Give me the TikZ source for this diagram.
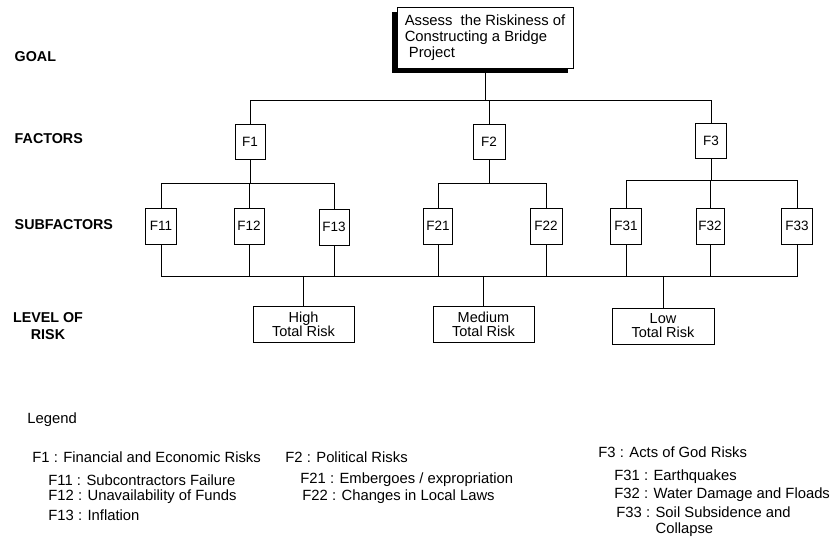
\documentclass[tikz,border=0pt]{standalone}
\usepackage{fontspec}
\setmainfont{Liberation Sans}
\usetikzlibrary{shadows}
\begin{document}
\begin{tikzpicture}[x=1pt,y=-1pt,
  line width=0.8pt,
  every node/.style={font=\fontsize{13.5}{15}\selectfont},
  fbox/.style={draw, fill=white, minimum width=30pt, minimum height=36pt, inner sep=1pt},
  riskbox/.style={draw, fill=white, minimum width=101pt, minimum height=36pt, inner sep=1pt, align=center, font=\fontsize{14.5}{14}\selectfont},
  goalbox/.style={draw, fill=white, minimum width=176pt, minimum height=61pt, inner xsep=2pt, inner ysep=2pt, align=left,
     font=\fontsize{14.8}{16}\selectfont,
     drop shadow={shadow xshift=-5pt, shadow yshift=-5pt, fill=black, opacity=1}},
  lvl/.style={anchor=west, font=\fontsize{14.3}{17}\bfseries\selectfont},
  leg/.style={anchor=west, inner sep=0pt, font=\fontsize{14.8}{17}\selectfont}
]
\useasboundingbox (0,0) rectangle (832,537);

% goal
\node[goalbox] (goal) at (485,37.5) {Assess\ \ the Riskiness of\\Constructing a Bridge\\\ Project};

% level labels
\node[lvl] (lgoal) at (11,57) {GOAL};
\node[lvl] (lfac) at (11,139) {FACTORS};
\node[lvl] (lsub) at (11,225) {SUBFACTORS};
\node[lvl, anchor=center, align=center, font=\fontsize{14.3}{17}\bfseries\selectfont] (lrisk) at (48,326) {LEVEL OF\\RISK};

% factors
\node[fbox, minimum height=35pt] (F1) at (250,142) {F1};
\node[fbox, minimum height=35pt, minimum width=32pt] (F2) at (489,142) {F2};
\node[fbox, minimum height=35pt, minimum width=31pt] (F3) at (711,141) {F3};

% subfactors
\node[fbox, minimum width=31pt] (F11) at (161,226) {F11};
\node[fbox] (F12) at (249,226) {F12};
\node[fbox] (F13) at (334,227) {F13};
\node[fbox, minimum width=29pt] (F21) at (438,226) {F21};
\node[fbox, minimum width=32pt] (F22) at (546,226) {F22};
\node[fbox, minimum width=31pt] (F31) at (626,226) {F31};
\node[fbox, minimum width=28pt] (F32) at (710,226) {F32};
\node[fbox, minimum width=31pt] (F33) at (797,226) {F33};

% risk levels
\node[riskbox] (high) at (303.5,324) {High\\Total Risk};
\node[riskbox] (med) at (483.5,324.5) {Medium\\Total Risk};
\node[riskbox, minimum width=102pt] (low) at (663,326) {Low\\Total Risk};

% bus coordinates
\coordinate (b0) at (0,100);
\coordinate (b1) at (0,183);
\coordinate (b2) at (0,183);
\coordinate (b3) at (0,180);
\coordinate (b4) at (0,276);

% goal to factors
\draw (goal.south) -- (goal.south |- b0);
\draw (F1.north) -- (F1.north |- b0) -- (F3.north |- b0) -- (F3.north);
\draw (F2.north) -- (F2.north |- b0);

% factors to subfactors
\draw (F1.south) -- (F1.south |- b1);
\draw (F11.north) -- (F11.north |- b1) -- (F13.north |- b1) -- (F13.north);
\draw (F12.north) -- (F12.north |- b1);

\draw (F2.south) -- (F2.south |- b2);
\draw (F21.north) -- (F21.north |- b2) -- (F22.north |- b2) -- (F22.north);

\draw (F3.south) -- (F3.south |- b3);
\draw (F31.north) -- (F31.north |- b3) -- (F33.north |- b3) -- (F33.north);
\draw (F32.north) -- (F32.north |- b3);

% subfactors to risk levels
\draw (F11.south) -- (F11.south |- b4) -- (F33.south |- b4) -- (F33.south);
\foreach \n in {F12,F13,F21,F22,F31,F32} {\draw (\n.south) -- (\n.south |- b4);}
\draw (high.north) -- (high.north |- b4);
\draw (med.north) -- (med.north |- b4);
\draw (low.north) -- (low.north |- b4);

% legend
\node[leg] (legend) at (27,420) {Legend};
\node[leg] (lg1) at (32,457) {F1 : Financial and Economic Risks};
\node[leg] (lg11) at (48,480) {F11 : Subcontractors Failure};
\node[leg] (lg12) at (48,497) {F12 : Unavailability of Funds};
\node[leg] (lg13) at (48,515) {F13 : Inflation};
\node[leg] (lg2) at (285,457) {F2 : Political Risks};
\node[leg] (lg21) at (300,480) {F21 : Embergoes / expropriation};
\node[leg] (lg22) at (302,497) {F22 : Changes in Local Laws};
\node[leg] (lg3) at (598,452) {F3 : Acts of God Risks};
\node[leg] (lg31) at (614,477) {F31 : Earthquakes};
\node[leg] (lg32) at (614,495) {F32 : Water Damage and Floads};
\node[leg, anchor=north west, align=left, font=\fontsize{14.8}{16}\selectfont] (lg33) at (616,506) {F33 : Soil Subsidence and\\\phantom{F33 : }Collapse};
\end{tikzpicture}
\end{document}
